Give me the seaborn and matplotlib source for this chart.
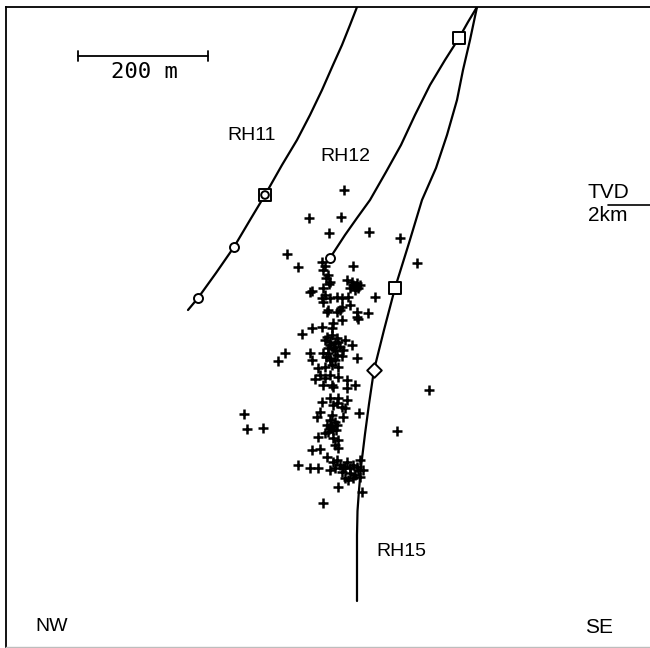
import matplotlib
matplotlib.use("Agg")
import matplotlib.pyplot as plt
import seaborn as sns
import pandas as pd

# ---------------- data (picture coordinates, px; y grows downward) ----------------
rh11_x = [357, 350, 342, 333, 322, 310, 297, 282, 265, 250, 234, 216, 198, 188]
rh11_y = [7, 25, 45, 65, 90, 115, 140, 165, 195, 220, 247, 273, 298, 310]

rh12_x = [477, 468, 459, 445, 430, 415, 401, 386, 370, 357, 345, 330]
rh12_y = [7, 22, 38, 60, 85, 115, 145, 172, 200, 218, 235, 258]

rh15_x = [477, 470, 463, 457, 447, 436, 422, 409, 395, 384, 374, 369, 365, 361, 359, 357.5, 357, 357, 357]
rh15_y = [7, 40, 70, 100, 135, 168, 200, 243, 288, 330, 370, 404, 434, 467, 490, 511, 535, 560, 601]

mark_well = ["RH11", "RH11", "RH11", "RH11", "RH12", "RH12", "RH15", "RH15"]
mark_kind = ["circle", "square", "circle", "circle", "square", "circle", "square", "diamond"]
mark_x = [265, 265, 234, 198, 459, 330, 395, 374]
mark_y = [195, 195, 247, 298, 38, 258, 288, 370]

event_x = [344, 309, 341, 329, 369, 400, 417, 287, 298, 353,
           322, 323, 328, 326, 347, 357, 353, 358, 355, 310, 312, 323, 325, 322, 330, 337, 342, 348, 375, 329,
           323, 328, 337, 342, 350, 357, 368, 357, 358, 342, 333, 312, 322, 332, 327, 340,
           302, 330, 337, 333, 340, 328, 337, 343, 323, 330, 335, 327, 352, 357, 285, 278, 310, 312, 318, 325,
           332, 338, 330, 335,
           320, 330, 325, 315, 323, 332, 338, 347, 355, 333, 347, 330, 322, 338, 347, 333, 342, 337,
           320, 317, 332, 343, 359, 345, 327, 332, 337, 328, 333, 318, 333, 338, 335, 325, 312, 320, 338,
           244, 247, 263, 429, 397,
           327, 298, 310, 318, 333, 340, 347, 353, 360, 330, 342, 350, 358, 345, 353, 360, 338, 362, 323,
           335, 345,
           352, 356, 360, 350, 325, 330,
           325, 332, 338, 345, 328, 335, 342, 330, 326,
           330, 335, 330, 336,
           337, 343, 350, 355, 348, 357, 363]
event_y = [190, 218, 217, 233, 232, 238, 263, 254, 267, 266,
           262, 270, 275, 278, 280, 283, 285, 288, 290, 292, 291, 288, 295, 298, 298, 297, 298, 297, 297, 284,
           302, 310, 312, 307, 305, 312, 313, 317, 319, 320, 323, 328, 327, 328, 312, 310,
           334, 342, 338, 348, 347, 353, 355, 350, 353, 345, 343, 337, 345, 358, 353, 361, 353, 360, 368, 367,
           365, 367, 358, 360,
           375, 375, 378, 379, 385, 385, 377, 380, 385, 387, 388, 398, 402, 398, 400, 405, 407, 403,
           412, 417, 415, 417, 413, 408, 425, 427, 425, 432, 430, 437, 438, 440, 445, 433, 450, 449, 448,
           414, 429, 428, 390, 431,
           457, 465, 468, 468, 462, 465, 462, 465, 460, 470, 472, 473, 470, 478, 478, 477, 487, 492, 503,
           468, 467,
           282, 286, 285, 288, 266, 282,
           340, 335, 342, 340, 348, 350, 356, 360, 357,
           420, 422, 428, 430,
           460, 468, 468, 475, 480, 467, 470]

well_labels = ["RH11", "RH12", "RH15"]
well_label_x = [252, 345, 401]
well_label_y = [135, 156, 551]

scale_text = "200 m"
scale_x0, scale_x1, scale_y = 78, 208, 56
depth_top, depth_bot = "TVD", "2km"
dir_left, dir_right = "NW", "SE"

# ---------------- figure ----------------
sns.set_theme(style="white")
plt.rcParams["font.family"] = ["Liberation Sans", "DejaVu Sans"]

fig = plt.figure(figsize=(6.5, 6.48), dpi=100)
W, H = 650, 648
left_px, top_px, bottom_px, right_px = 6, 7, 646.5, 653
ax = fig.add_axes([left_px / W, 1 - bottom_px / H,
                   (right_px - left_px) / W, (bottom_px - top_px) / H])
ax.set_xlim(left_px, right_px)
ax.set_ylim(bottom_px, top_px)
ax.set_facecolor("white")
for side in ["left", "top"]:
    ax.spines[side].set_color("black")
    ax.spines[side].set_linewidth(1.3)
ax.spines["bottom"].set_color("#bdbdbd")
ax.spines["bottom"].set_linewidth(1.0)
ax.spines["right"].set_visible(False)
ax.set_xticks([])
ax.set_yticks([])

# trajectories
traj = pd.concat([
    pd.DataFrame({"well": "RH11", "x": rh11_x, "y": rh11_y}),
    pd.DataFrame({"well": "RH12", "x": rh12_x, "y": rh12_y}),
    pd.DataFrame({"well": "RH15", "x": rh15_x, "y": rh15_y}),
])
for w, g in traj.groupby("well"):
    sns.lineplot(data=g, x="x", y="y", sort=False, estimator=None, color="black",
                 linewidth=1.6, ax=ax, legend=False)

# seismic events
ev = pd.DataFrame({"x": event_x, "y": event_y})
sns.scatterplot(data=ev, x="x", y="y", marker="+", s=62, color="black",
                linewidth=1.8, ax=ax, legend=False, zorder=3)

# markers on trajectories (drawn in listed order)
msym = {"square": ("s", 75), "circle": ("o", 42), "diamond": ("D", 55)}
for i, (kind, mx, my) in enumerate(zip(mark_kind, mark_x, mark_y)):
    m, s = msym[kind]
    sns.scatterplot(x=[mx], y=[my], marker=m, s=s, facecolor="white",
                    edgecolor="black", linewidth=1.4, ax=ax, legend=False, zorder=4 + i * 0.01)
# the RH11 square overlaps a circle marker in the original
sns.scatterplot(x=[mark_x[0]], y=[mark_y[0]], marker="o", s=30, facecolor="none",
                edgecolor="black", linewidth=1.4, ax=ax, legend=False, zorder=5)

ax.set_xlabel("")
ax.set_ylabel("")

# labels
for lab, lx, ly in zip(well_labels, well_label_x, well_label_y):
    ax.text(lx, ly, lab, fontsize=14, ha="center", va="center", color="black")

# scale bar
ax.plot([scale_x0, scale_x1], [scale_y, scale_y], color="black", lw=1.3)
for sx in (scale_x0, scale_x1):
    ax.plot([sx, sx], [scale_y - 5, scale_y + 5], color="black", lw=1.3)
ax.text((scale_x0 + scale_x1) / 2 + 1, 72, scale_text, fontsize=16, ha="center", va="center",
        family=["DejaVu Sans Mono"], color="black")

# depth note
ax.text(588, 192, depth_top, fontsize=15, ha="left", va="center", color="black")
ax.plot([608, 653], [205, 205], color="black", lw=1.2)
ax.text(588, 215, depth_bot, fontsize=15, ha="left", va="center", color="black")

# directions
ax.text(52, 626, dir_left, fontsize=14, ha="center", va="center", color="black")
ax.text(599, 627, dir_right, fontsize=15, ha="center", va="center", color="black")

fig.savefig("out.png", dpi=100, facecolor="white")
